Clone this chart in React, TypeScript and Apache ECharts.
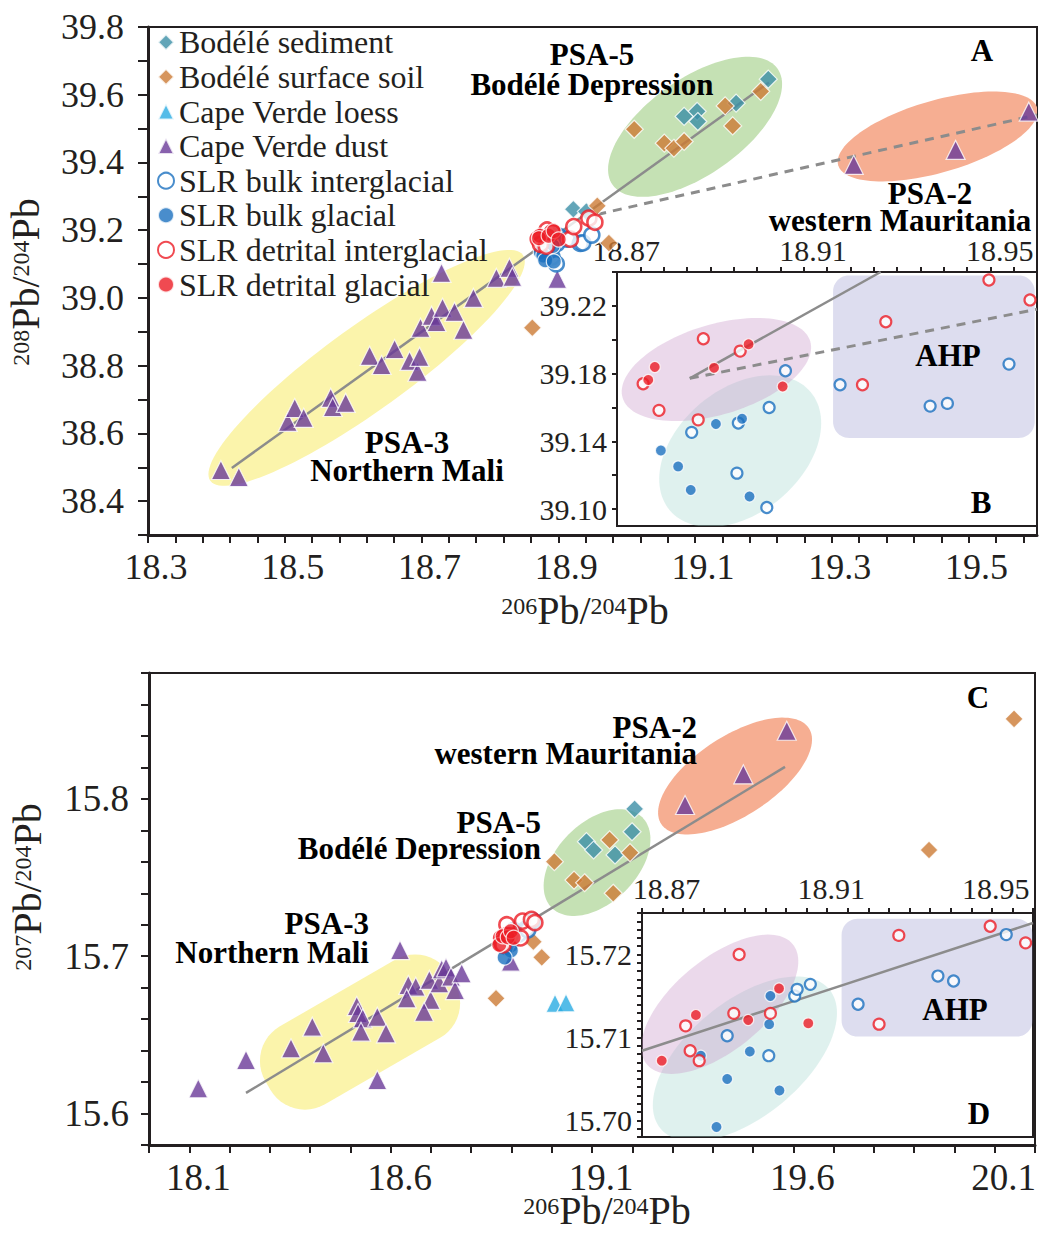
import React, { useEffect, useRef } from "react";
import * as echarts from "echarts";

const FONT = '"Liberation Serif", "Times New Roman", Times, serif';
const INK = "#231f20";

// ---------- axis tick labels ----------
const A_X_LABELS = [18.3, 18.5, 18.7, 18.9, 19.1, 19.3, 19.5];
const A_Y_LABELS = [38.4, 38.6, 38.8, 39.0, 39.2, 39.4, 39.6, 39.8];
const B_X_LABELS = [18.87, 18.91, 18.95];
const B_Y_LABELS = [39.1, 39.14, 39.18, 39.22];
const C_X_LABELS = [18.1, 18.6, 19.1, 19.6, 20.1];
const C_Y_LABELS = [15.6, 15.7, 15.8];
const D_X_LABELS = [18.87, 18.91, 18.95];
const D_Y_LABELS = [15.7, 15.71, 15.72];

// ---------- series names ----------
const N_SED = "Bodélé sediment";
const N_SOIL = "Bodélé surface soil";
const N_LOESS = "Cape Verde loess";
const N_DUST = "Cape Verde dust";
const N_BULK_IG = "SLR bulk interglacial";
const N_BULK_G = "SLR bulk glacial";
const N_DET_IG = "SLR detrital interglacial";
const N_DET_G = "SLR detrital glacial";
const LEGEND_NAMES = [N_SED, N_SOIL, N_LOESS, N_DUST, N_BULK_IG, N_BULK_G, N_DET_IG, N_DET_G];

// ---------- 206Pb/204Pb vs 208Pb/204Pb ----------
const A_BODELE_SEDIMENT = [
  [19.207, 39.646], [19.16, 39.575], [19.103, 39.551], [19.104, 39.521],
  [19.084, 39.536], [18.922, 39.262], [18.941, 39.255],
];
const A_BODELE_SOIL = [
  [19.196, 39.61], [19.144, 39.567], [19.155, 39.508], [19.011, 39.498],
  [19.055, 39.457], [19.069, 39.442], [19.084, 39.462], [18.957, 39.272],
  [18.974, 39.162], [18.862, 38.912],
];
const A_CV_DUST = [
  [18.4066, 38.492], [18.4328, 38.471], [18.5044, 38.634], [18.5146, 38.675],
  [18.5277, 38.646], [18.5672, 38.705], [18.5701, 38.678], [18.5891, 38.69],
  [18.6241, 38.829], [18.6416, 38.802], [18.6606, 38.849], [18.6825, 38.814],
  [18.6942, 38.782], [18.6971, 38.826], [18.6985, 38.912], [18.7146, 38.947],
  [18.7219, 38.929], [18.7292, 39.074], [18.7307, 38.971], [18.7482, 38.959],
  [18.7613, 38.906], [18.7759, 39.0], [18.8095, 39.059], [18.8285, 39.089],
  [18.8328, 39.062], [18.8985, 39.056], [19.332, 39.393], [19.481, 39.437],
  [19.588, 39.55],
];
const SLR_BULK_IG_208 = [
  [18.9011, 39.1817], [18.8976, 39.16], [18.881, 39.1453], [18.8907, 39.1212],
  [18.8971, 39.1009], [18.9128, 39.1734], [18.9321, 39.1608], [18.9358, 39.1624],
  [18.949, 39.1856], [18.891, 39.1508],
];
const SLR_BULK_G_208 = [
  [18.8862, 39.1502], [18.8918, 39.1533], [18.8744, 39.1346], [18.8781, 39.1252],
  [18.8808, 39.1113], [18.8934, 39.1074],
];
const SLR_DET_IG_208 = [
  [18.8835, 39.2006], [18.8914, 39.1933], [18.8706, 39.174], [18.874, 39.1583],
  [18.8824, 39.1527], [18.9176, 39.1734], [18.9226, 39.2106], [18.9447, 39.2353],
  [18.9535, 39.2235],
];
const SLR_DET_G_208 = [
  [18.8731, 39.1839], [18.8717, 39.1762], [18.8858, 39.1834], [18.8932, 39.1973],
  [18.9005, 39.1724],
];

// ---------- 206Pb/204Pb vs 207Pb/204Pb ----------
const C_BODELE_SEDIMENT = [
  [19.0862, 15.7728], [19.104, 15.7675], [19.1572, 15.7644], [19.1994, 15.7791],
  [19.2058, 15.7936],
];
const C_BODELE_SOIL = [
  [19.0065, 15.7601], [19.1438, 15.7739], [19.1944, 15.7658], [19.0554, 15.7484],
  [19.0817, 15.7467], [19.1527, 15.74], [20.148, 15.8508], [19.9369, 15.7675],
  [18.9543, 15.7092], [18.9752, 15.6993], [18.8617, 15.6732],
];
const C_CV_LOESS = [[19.0082, 15.6701], [19.0355, 15.6704]];
const C_CV_DUST = [
  [18.1224, 15.616], [18.2409, 15.634], [18.3526, 15.6415], [18.4055, 15.6552],
  [18.4328, 15.6383], [18.5158, 15.6683], [18.519, 15.6639], [18.5307, 15.6605],
  [18.5264, 15.652], [18.5669, 15.6615], [18.5885, 15.651], [18.5669, 15.6213],
  [18.6233, 15.7039], [18.6439, 15.6817], [18.6623, 15.6806], [18.6399, 15.6732],
  [18.6961, 15.6849], [18.6995, 15.6722], [18.6829, 15.6647], [18.7209, 15.6828],
  [18.7268, 15.6917], [18.7375, 15.6929], [18.75, 15.687], [18.7599, 15.6785],
  [18.7765, 15.6891], [18.8982, 15.6965], [19.331, 15.7961], [19.4758, 15.8156],
  [19.5836, 15.8433],
];
const SLR_BULK_IG_207 = [
  [18.8857, 15.7102], [18.8958, 15.7078], [18.9021, 15.715], [18.9027, 15.7158],
  [18.9059, 15.7164], [18.9175, 15.714], [18.9369, 15.7174], [18.9407, 15.7168],
  [18.9535, 15.7224],
];
const SLR_BULK_G_207 = [
  [18.8793, 15.7078], [18.8962, 15.715], [18.8959, 15.7116], [18.8912, 15.7083],
  [18.8857, 15.705], [18.8984, 15.7036], [18.8831, 15.6992],
];
const SLR_DET_IG_207 = [
  [18.8886, 15.72], [18.8756, 15.7114], [18.8767, 15.7084], [18.8789, 15.7072],
  [18.8873, 15.7129], [18.8962, 15.7129], [18.9274, 15.7223], [18.9226, 15.7116],
  [18.9496, 15.7234], [18.9582, 15.7214],
];
const SLR_DET_G_207 = [
  [18.8698, 15.7072], [18.8781, 15.7127], [18.8908, 15.7121], [18.8983, 15.7159],
  [18.9054, 15.7117],
];

// ---------- trend lines ----------
const A_TREND_SOLID = [[18.4226, 38.498], [19.208, 39.636]];
const A_TREND_DASHED = [[18.957, 39.2466], [19.6, 39.5405]];
const B_TREND_SOLID = [[18.8806, 39.1772], [18.9215, 39.24]];
const B_TREND_DASHED = [[18.8806, 39.1772], [18.955, 39.218]];
const C_TREND = [[18.2409, 15.6131], [19.5793, 15.8203]];
const D_TREND = [[18.865, 15.7084], [18.96, 15.7238]];

// ---------- source regions (centre and two half-axis vectors, data units) ----------
type Region = { kind: "ellipse" | "round"; c: number[]; u: number[]; v: number[] };
const A_REGIONS: Region[] = [
  { kind: "ellipse", c: [18.6197, 38.7934], u: [0.2285, 0.3335], v: [0.0359, -0.1007] },
  { kind: "ellipse", c: [19.1, 39.5053], u: [0.1207, 0.1713], v: [0.0403, -0.1161] },
  { kind: "ellipse", c: [19.4547, 39.4767], u: [0.1454, 0.0848], v: [0.01456, -0.1022] },
];
const B_REGIONS: Region[] = [
  { kind: "ellipse", c: [18.8914, 39.1342], u: [0.0151, 0.0349], v: [0.00855, -0.02807] },
  { kind: "ellipse", c: [18.8863, 39.1824], u: [0.0201, 0.0167], v: [0.00279, -0.02547] },
  { kind: "round", c: [18.9329, 39.19], u: [0.0216, 0], v: [0, 0.048] },
];
const C_REGIONS: Region[] = [
  { kind: "round", c: [18.524, 15.6518], u: [0.229, 0.03385], v: [0.0559, -0.02479] },
  { kind: "ellipse", c: [19.1125, 15.7595], u: [0.1124, 0.02876], v: [0.0703, -0.01799] },
  { kind: "ellipse", c: [19.4552, 15.8145], u: [0.1833, 0.03045], v: [0.0541, -0.02129] },
];
const D_REGIONS: Region[] = [
  { kind: "ellipse", c: [18.89, 15.7074], u: [0.02046, 0.008417], v: [0.00905, -0.00529] },
  { kind: "ellipse", c: [18.8839, 15.714], u: [0.01767, 0.007274], v: [0.00718, -0.00419] },
  { kind: "round", c: [18.9367, 15.7172], u: [0.0232, 0], v: [0, 0.0071] },
];

// region fills and corner radii (px)
const YELLOW = "#fbf4ab";
const GREEN = "#c5e1b4";
const SALMON = "#f6ae92";
const PINK = "rgba(200,150,200,0.36)";
const MINT = "rgba(160,215,205,0.34)";
const LAVENDER = "rgba(150,150,205,0.32)";
const A_FILLS = [YELLOW, GREEN, SALMON];
const B_FILLS = [MINT, PINK, LAVENDER];
const C_FILLS = [YELLOW, GREEN, SALMON];
const D_FILLS = [MINT, PINK, LAVENDER];
const A_RADII = [0, 0, 0];
const B_RADII = [0, 0, 16];
const C_RADII = [40, 0, 0];
const D_RADII = [0, 0, 16];

const MARKERS: Record<string, { symbol: string; color: string; open: boolean }> = {
  [N_SED]: { symbol: "diamond", color: "#3b8ea6", open: false },
  [N_SOIL]: { symbol: "diamond", color: "#cc7a35", open: false },
  [N_LOESS]: { symbol: "triangle", color: "#29abe2", open: false },
  [N_DUST]: { symbol: "triangle", color: "#6a3a98", open: false },
  [N_BULK_IG]: { symbol: "circle", color: "#1b70bf", open: true },
  [N_BULK_G]: { symbol: "circle", color: "#1b70bf", open: false },
  [N_DET_IG]: { symbol: "circle", color: "#ec1d25", open: true },
  [N_DET_G]: { symbol: "circle", color: "#ec1d25", open: false },
};

function ticks(from: number, to: number, step: number): number[] {
  const out: number[] = [];
  const n = Math.round((to - from) / step);
  for (let i = 0; i <= n; i++) out.push(+(from + i * step).toFixed(4));
  return out;
}

function axis(o: {
  grid: number; min: number; max: number; labels: number[]; tickValues: number[];
  digits: number; position: string; fontSize: number; margin: number; tickLen: number;
  lineWidth: number; shift?: number;
}) {
  const shift = o.shift || 0;
  return {
    type: "value",
    gridIndex: o.grid,
    min: o.min,
    max: o.max,
    position: o.position,
    axisLine: { show: true, onZero: false, lineStyle: { color: INK, width: o.lineWidth } },
    axisTick: {
      show: true, inside: false, length: o.tickLen, customValues: o.tickValues,
      lineStyle: { color: INK, width: 2 },
    },
    axisLabel: {
      show: true, customValues: o.labels, margin: o.margin,
      formatter: (v: number) => v.toFixed(o.digits),
      fontFamily: FONT, fontSize: o.fontSize, color: INK,
      showMinLabel: true, showMaxLabel: true, hideOverlap: false,
      // horizontal nudge of the label relative to its tick
      padding: shift > 0 ? [0, 0, 0, 2 * shift] : shift < 0 ? [0, -2 * shift, 0, 0] : 0,
    },
    splitLine: { show: false },
  };
}

function scatter(name: string, gi: number, data: number[][], size: number) {
  const m = MARKERS[name];
  return {
    type: "scatter",
    name,
    xAxisIndex: gi,
    yAxisIndex: gi,
    data,
    symbol: m.symbol,
    symbolSize: size,
    z: 3,
    silent: true,
    itemStyle: m.open
      ? { color: "#ffffff", borderColor: m.color, borderWidth: gi % 2 ? 2.2 : 2.6 }
      : { color: m.color, borderColor: "#ffffff", borderWidth: 1.2 },
  };
}

function trend(gi: number, data: number[][], dashed: boolean) {
  return {
    type: "line",
    xAxisIndex: gi,
    yAxisIndex: gi,
    data,
    symbol: "none",
    showSymbol: false,
    silent: true,
    z: 2,
    lineStyle: { color: "#8c8c8c", width: dashed ? 3 : 2.5, type: dashed ? [9, 7] : "solid" },
  };
}

function regions(gi: number, list: Region[], fills: string[], radii: number[]) {
  return {
    type: "custom",
    xAxisIndex: gi,
    yAxisIndex: gi,
    z: 1,
    silent: true,
    clip: true,
    data: list.map((r) => r.c),
    renderItem: (params: any, api: any) => {
      const idx = params.dataIndex;
      const r = list[idx];
      const pc = api.coord(r.c);
      const eu = api.coord([r.c[0] + r.u[0], r.c[1] + r.u[1]]);
      const ev = api.coord([r.c[0] + r.v[0], r.c[1] + r.v[1]]);
      const pu = [eu[0] - pc[0], eu[1] - pc[1]];
      const pv = [ev[0] - pc[0], ev[1] - pc[1]];
      const at = (s: number, t: number) => [pc[0] + pu[0] * s + pv[0] * t, pc[1] + pu[1] * s + pv[1] * t];
      const pts: number[][] = [];
      if (r.kind === "ellipse") {
        for (let i = 0; i < 120; i++) {
          const a = (i / 120) * Math.PI * 2;
          pts.push(at(Math.cos(a), Math.sin(a)));
        }
      } else {
        const R = radii[idx];
        const rs = Math.min(1, R / Math.hypot(pu[0], pu[1]));
        const rt = Math.min(1, R / Math.hypot(pv[0], pv[1]));
        const corners = [[1, 1, 0], [-1, 1, 90], [-1, -1, 180], [1, -1, 270]];
        for (const [sx, sy, a0] of corners) {
          const s0 = sx * (1 - rs);
          const t0 = sy * (1 - rt);
          for (let k = 0; k <= 12; k++) {
            const a = ((a0 + (90 * k) / 12) * Math.PI) / 180;
            pts.push(at(s0 + rs * Math.cos(a), t0 + rt * Math.sin(a)));
          }
        }
      }
      return { type: "polygon", shape: { points: pts }, style: { fill: fills[idx] } };
    },
  };
}

const BOLD = { fontFamily: FONT, fontWeight: "bold", fontSize: 31, fill: "#000000" };

// bold annotation; lines given as [text, horizontal offset of that line]
function label(lines: [string, number][], x: number, y: number, align = "center", lineHeight = 28) {
  const rich: Record<string, any> = {};
  const text = lines
    .map(([t, off], i) => {
      rich["l" + i] = {
        ...BOLD,
        lineHeight,
        padding: off > 0 ? [0, 0, 0, off] : off < 0 ? [0, -off, 0, 0] : 0,
      };
      return `{l${i}|${t}}`;
    })
    .join("\n");
  return {
    type: "text",
    x,
    y,
    z: 20,
    silent: true,
    style: { text, rich, align, verticalAlign: "middle", lineHeight, ...BOLD },
  };
}

function ratioTitle(top: string, x: number, y: number, vertical: boolean) {
  return {
    type: "text",
    x,
    y,
    z: 20,
    silent: true,
    rotation: vertical ? Math.PI / 2 : 0,
    style: {
      text: `{s|${top}}{n|Pb/}{s|204}{n|Pb}`,
      align: "center",
      verticalAlign: "middle",
      rich: {
        s: { fontFamily: FONT, fontSize: 24, fill: INK, verticalAlign: "top", lineHeight: 36 },
        n: { fontFamily: FONT, fontSize: 40, fill: INK, verticalAlign: "bottom", lineHeight: 36 },
      },
    },
  };
}

export default function App() {
  const ref = useRef<HTMLDivElement>(null);

  useEffect(() => {
    document.body.style.margin = "0";
    const chart = echarts.init(ref.current!, null, { renderer: "svg" });

    const option: any = {
      animation: false,
      backgroundColor: "#ffffff",
      textStyle: { fontFamily: FONT },
      grid: [
        { left: 148, top: 27, width: 889, height: 508, show: true, borderColor: INK, borderWidth: 2, outerBoundsMode: "none" },
        { left: 617, top: 272, width: 420, height: 254, show: true, borderColor: INK, borderWidth: 2, backgroundColor: "#ffffff", outerBoundsMode: "none" },
        { left: 149, top: 673, width: 886, height: 472, show: true, borderColor: INK, borderWidth: 2, outerBoundsMode: "none" },
        { left: 642, top: 913, width: 391, height: 224, show: true, borderColor: INK, borderWidth: 2, backgroundColor: "#ffffff", outerBoundsMode: "none" },
      ],
      xAxis: [
        axis({ grid: 0, min: 18.3, max: 19.6, labels: A_X_LABELS, tickValues: ticks(18.3, 19.58, 0.04), digits: 1, position: "bottom", fontSize: 36, margin: 14, tickLen: 8, lineWidth: 3, shift: 8 }),
        axis({ grid: 1, min: 18.865, max: 18.955, labels: B_X_LABELS, tickValues: ticks(18.87, 18.955, 0.005), digits: 2, position: "top", fontSize: 30, margin: 7, tickLen: 5, lineWidth: 2, shift: -14 }),
        axis({ grid: 2, min: 18.0, max: 20.2, labels: C_X_LABELS, tickValues: ticks(18.0, 20.2, 0.1), digits: 1, position: "bottom", fontSize: 37, margin: 14, tickLen: 8, lineWidth: 3, shift: 9 }),
        axis({ grid: 3, min: 18.865, max: 18.96, labels: D_X_LABELS, tickValues: ticks(18.865, 18.96, 0.005), digits: 2, position: "top", fontSize: 30, margin: 10, tickLen: 5, lineWidth: 2, shift: 4 }),
      ],
      yAxis: [
        axis({ grid: 0, min: 38.3, max: 39.8, labels: A_Y_LABELS, tickValues: ticks(38.3, 39.8, 0.1), digits: 1, position: "left", fontSize: 36, margin: 24, tickLen: 10, lineWidth: 3 }),
        axis({ grid: 1, min: 39.09, max: 39.24, labels: B_Y_LABELS, tickValues: ticks(39.1, 39.24, 0.02), digits: 2, position: "left", fontSize: 30, margin: 10, tickLen: 5, lineWidth: 2 }),
        axis({ grid: 2, min: 15.58, max: 15.88, labels: C_Y_LABELS, tickValues: ticks(15.58, 15.88, 0.02), digits: 1, position: "left", fontSize: 37, margin: 20, tickLen: 8, lineWidth: 3 }),
        axis({ grid: 3, min: 15.698, max: 15.725, labels: D_Y_LABELS, tickValues: ticks(15.698, 15.725, 0.001), digits: 2, position: "left", fontSize: 30, margin: 10, tickLen: 5, lineWidth: 2 }),
      ],
      legend: {
        show: true,
        orient: "vertical",
        left: 157,
        top: 25,
        padding: 0,
        itemWidth: 16,
        itemHeight: 16,
        itemGap: 0,
        selectedMode: false,
        textStyle: { fontFamily: FONT, fontSize: 32, color: INK, lineHeight: 34.6 },
        data: LEGEND_NAMES,
      },
      series: [
        regions(0, A_REGIONS, A_FILLS, A_RADII),
        regions(1, B_REGIONS, B_FILLS, B_RADII),
        regions(2, C_REGIONS, C_FILLS, C_RADII),
        regions(3, D_REGIONS, D_FILLS, D_RADII),

        trend(0, A_TREND_SOLID, false),
        trend(0, A_TREND_DASHED, true),
        trend(1, B_TREND_SOLID, false),
        trend(1, B_TREND_DASHED, true),
        trend(2, C_TREND, false),
        trend(3, D_TREND, false),

        // panel A
        scatter(N_SED, 0, A_BODELE_SEDIMENT, 18),
        scatter(N_SOIL, 0, A_BODELE_SOIL, 18),
        scatter(N_DUST, 0, A_CV_DUST, 19),
        scatter(N_BULK_IG, 0, SLR_BULK_IG_208, 15),
        scatter(N_BULK_G, 0, SLR_BULK_G_208, 15),
        scatter(N_DET_IG, 0, SLR_DET_IG_208, 15),
        scatter(N_DET_G, 0, SLR_DET_G_208, 15),
        // inset B
        scatter(N_BULK_IG, 1, SLR_BULK_IG_208, 11),
        scatter(N_BULK_G, 1, SLR_BULK_G_208, 11),
        scatter(N_DET_IG, 1, SLR_DET_IG_208, 11),
        scatter(N_DET_G, 1, SLR_DET_G_208, 11),
        // panel C
        scatter(N_LOESS, 2, C_CV_LOESS, 18),
        scatter(N_SED, 2, C_BODELE_SEDIMENT, 18),
        scatter(N_SOIL, 2, C_BODELE_SOIL, 18),
        scatter(N_DUST, 2, C_CV_DUST, 19),
        scatter(N_BULK_IG, 2, SLR_BULK_IG_207, 15),
        scatter(N_BULK_G, 2, SLR_BULK_G_207, 15),
        scatter(N_DET_IG, 2, SLR_DET_IG_207, 15),
        scatter(N_DET_G, 2, SLR_DET_G_207, 15),
        // inset D
        scatter(N_BULK_IG, 3, SLR_BULK_IG_207, 11),
        scatter(N_BULK_G, 3, SLR_BULK_G_207, 11),
        scatter(N_DET_IG, 3, SLR_DET_IG_207, 11),
        scatter(N_DET_G, 3, SLR_DET_G_207, 11),
      ],
      graphic: {
        elements: [
          // panel A
          label([["PSA-5", 0], ["Bodélé Depression", 0]], 592, 69, "center", 30),
          label([["A", 0]], 982, 50),
          label([["PSA-2", 60], ["western Mauritania", 0]], 900, 207, "center", 27),
          label([["PSA-3", 0], ["Northern Mali", 0]], 407, 456, "center", 28),
          label([["AHP", 0]], 948, 355),
          label([["B", 0]], 981, 502),
          // panel C
          label([["C", 0]], 978, 697),
          label([["PSA-2", 0], ["western Mauritania", 0]], 697, 740, "right", 26),
          label([["PSA-5", 0], ["Bodélé Depression", 0]], 541, 835, "right", 26),
          label([["PSA-3", 0], ["Northern Mali", 0]], 369, 938, "right", 29),
          label([["AHP", 0]], 955, 1009),
          label([["D", 0]], 979, 1113),
          // axis titles
          ratioTitle("208", 27, 282, true),
          ratioTitle("206", 585, 612, false),
          ratioTitle("207", 29, 887, true),
          ratioTitle("206", 607, 1212, false),
        ],
      },
    };

    chart.setOption(option);
    return () => chart.dispose();
  }, []);

  return (
    <div
      ref={ref}
      style={{ position: "absolute", left: 0, top: 0, width: 1039, height: 1234, background: "#fff" }}
    />
  );
}
